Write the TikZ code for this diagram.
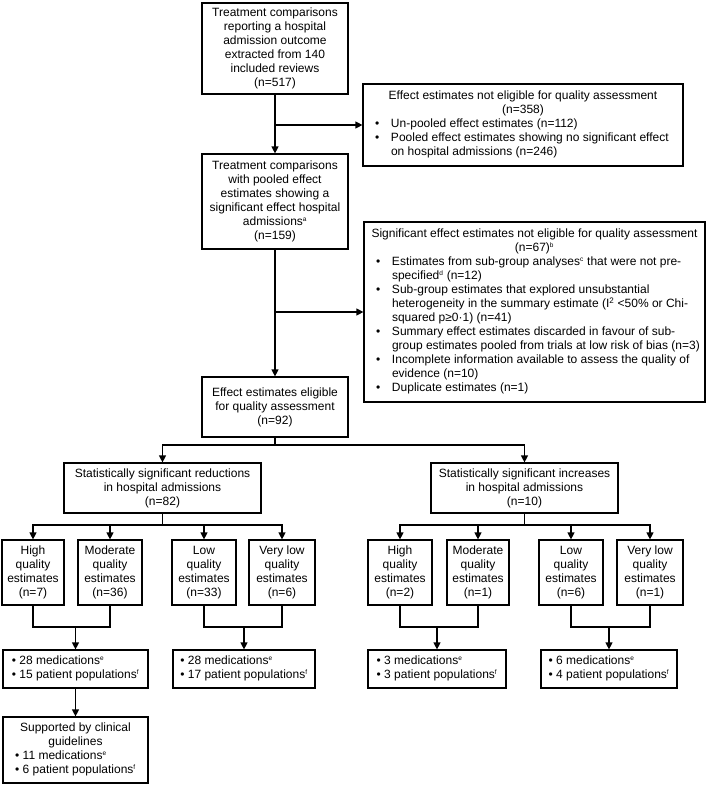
\documentclass[tikz,border=0pt]{standalone}
\usepackage{fontspec}
\setmainfont{Liberation Sans}
\usetikzlibrary{arrows.meta}
\newcommand{\sups}[1]{\textsuperscript{\fontsize{6.5}{6.5}\selectfont #1}}
\begin{document}
\begin{tikzpicture}[x=1pt,y=-1pt,
  every node/.style={font=\fontsize{12}{14}\selectfont, inner sep=0pt},
  box/.style={draw, line width=1.2pt, align=center},
  tbox/.style={draw, line width=1.2pt},
  ln/.style={line width=1.2pt},
  arr/.style={line width=1.2pt, -{Triangle[length=7pt,width=7pt]}}]
\useasboundingbox (0,0) rectangle (709,785);

% top column
\node[box, minimum width=146pt, minimum height=91pt] (A) at (275,48.5)
  {Treatment comparisons\\reporting a hospital\\admission outcome\\extracted from 140\\included reviews\\(n=517)};
\node[tbox, minimum width=320pt, minimum height=82pt] (R1) at (523,125)
  {\begin{tabular}{@{\hspace{12pt}}p{16pt}@{}p{292pt}@{}}
   \multicolumn{2}{@{}c@{}}{Effect estimates not eligible for quality assessment}\\
   \multicolumn{2}{@{}c@{}}{(n=358)}\\
   \textbullet & Un-pooled effect estimates (n=112)\\
   \textbullet & Pooled effect estimates showing no significant effect\\
   & on hospital admissions (n=246)
   \end{tabular}};
\node[box, minimum width=146pt, minimum height=95pt] (B) at (275,201.5)
  {Treatment comparisons\\with pooled effect\\estimates showing a\\significant effect hospital\\admissions\sups{a}\\(n=159)};
\node[tbox, minimum width=341pt, minimum height=180pt] (R2) at (534.5,312)
  {\begin{tabular}{@{\hspace{12pt}}p{16pt}@{}p{313pt}@{}}
   \multicolumn{2}{@{}c@{}}{Significant effect estimates not eligible for quality assessment}\\
   \multicolumn{2}{@{}c@{}}{(n=67)\sups{b}}\\
   \textbullet & Estimates from sub-group analyses\sups{c} that were not pre-\\
   & specified\sups{d} (n=12)\\
   \textbullet & Sub-group estimates that explored unsubstantial\\
   & heterogeneity in the summary estimate (I\textsuperscript{2} <50\% or Chi-\\
   & squared p≥0·1) (n=41)\\
   \textbullet & Summary effect estimates discarded in favour of sub-\\
   & group estimates pooled from trials at low risk of bias (n=3)\\
   \textbullet & Incomplete information available to assess the quality of\\
   & evidence (n=10)\\
   \textbullet & Duplicate estimates (n=1)
   \end{tabular}};
\node[box, minimum width=146pt, minimum height=60pt] (C) at (275,407)
  {Effect estimates eligible\\for quality assessment\\(n=92)};

% second level
\node[box, minimum width=197pt, minimum height=50pt] (red) at (162.5,488)
  {Statistically significant reductions\\in hospital admissions\\(n=82)};
\node[box, minimum width=187pt, minimum height=50pt] (inc) at (524.5,488)
  {Statistically significant increases\\in hospital admissions\\(n=10)};

% quality level
\node[box, minimum width=62pt, minimum height=65pt] (c1) at (33,572.5) {High\\quality\\estimates\\(n=7)};
\node[box, minimum width=64pt, minimum height=65pt] (c2) at (110,572.5) {Moderate\\quality\\estimates\\(n=36)};
\node[box, minimum width=64pt, minimum height=65pt] (c3) at (204,572.5) {Low\\quality\\estimates\\(n=33)};
\node[box, minimum width=66pt, minimum height=65pt] (c4) at (282,572.5) {Very low\\quality\\estimates\\(n=6)};
\node[box, minimum width=64pt, minimum height=65pt] (c5) at (400,572.5) {High\\quality\\estimates\\(n=2)};
\node[box, minimum width=62pt, minimum height=65pt] (c6) at (478,572.5) {Moderate\\quality\\estimates\\(n=1)};
\node[box, minimum width=64pt, minimum height=65pt] (c7) at (571,572.5) {Low\\quality\\estimates\\(n=6)};
\node[box, minimum width=66pt, minimum height=65pt] (c8) at (650,572.5) {Very low\\quality\\estimates\\(n=1)};

% medication boxes
\node[tbox, minimum width=145pt, minimum height=38pt] (m1) at (75.5,669)
  {\begin{tabular}{@{}l@{}}\textbullet{} 28 medications\sups{e}\\\textbullet{} 15 patient populations\sups{f}\end{tabular}};
\node[tbox, minimum width=142pt, minimum height=38pt] (m2) at (244,669)
  {\begin{tabular}{@{}l@{}}\textbullet{} 28 medications\sups{e}\\\textbullet{} 17 patient populations\sups{f}\end{tabular}};
\node[tbox, minimum width=138pt, minimum height=38pt] (m3) at (437,669)
  {\begin{tabular}{@{}l@{}}\textbullet{} 3 medications\sups{e}\\\textbullet{} 3 patient populations\sups{f}\end{tabular}};
\node[tbox, minimum width=136pt, minimum height=38pt] (m4) at (609,669)
  {\begin{tabular}{@{}l@{}}\textbullet{} 6 medications\sups{e}\\\textbullet{} 4 patient populations\sups{f}\end{tabular}};
\node[tbox, minimum width=145pt, minimum height=66pt] (S) at (75.5,750)
  {\begin{tabular}{@{}l@{}}\multicolumn{1}{@{}c@{}}{Supported by clinical}\\\multicolumn{1}{@{}c@{}}{guidelines}\\\textbullet{} 11 medications\sups{e}\\\textbullet{} 6 patient populations\sups{f}\end{tabular}};

% connectors
\coordinate (j1) at (275,125);
\coordinate (j2) at (275,312);
\coordinate (j3) at (275,445);
\coordinate (j4) at (162.5,525);
\coordinate (j5) at (524.5,525);
\coordinate (k1) at (75.5,627);
\coordinate (k2) at (244,627);
\coordinate (k3) at (437,627);
\coordinate (k4) at (609,627);

\draw[arr] (A.south) -- (B.north);
\draw[arr] (j1) -- (R1.west);
\draw[arr] (B.south) -- (C.north);
\draw[arr] (j2) -- (R2.west);
\draw[ln] (C.south) -- (j3);
\draw[arr] (j3) -| (red.north);
\draw[arr] (j3) -| (inc.north);
\draw[ln] (red.south) -- (j4);
\draw[ln] (inc.south) -- (j5);
\foreach \n in {c1,c2,c3,c4} \draw[arr] (j4) -| (\n.north);
\foreach \n in {c5,c6,c7,c8} \draw[arr] (j5) -| (\n.north);
\draw[ln] (c1.south) |- (k1) -| (c2.south);
\draw[ln] (c3.south) |- (k2) -| (c4.south);
\draw[ln] (c5.south) |- (k3) -| (c6.south);
\draw[ln] (c7.south) |- (k4) -| (c8.south);
\draw[arr] (k1) -- (m1.north);
\draw[arr] (k2) -- (m2.north);
\draw[arr] (k3) -- (m3.north);
\draw[arr] (k4) -- (m4.north);
\draw[arr] (m1.south) -- (S.north);
\end{tikzpicture}
\end{document}
